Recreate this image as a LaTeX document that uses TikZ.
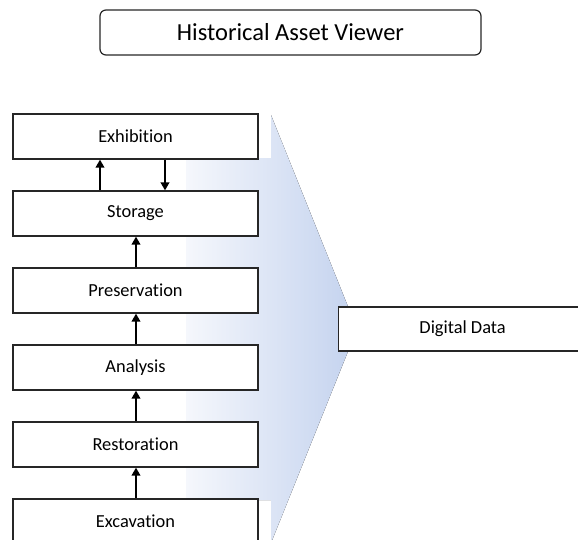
\documentclass[tikz,border=0pt]{standalone}
\usepackage{fontspec}
\setmainfont{Carlito}[Ligatures=NoCommon]
\usetikzlibrary{arrows.meta}
\definecolor{flowlight}{HTML}{F5F7FC}
\definecolor{flowdark}{HTML}{C3D2EE}
\begin{document}
\begin{tikzpicture}[x=1pt,y=-1pt,
  stagebox/.style={draw=black!85, line width=1.2pt, fill=white,
    minimum width=245pt, minimum height=45pt, inner sep=0pt,
    font=\fontsize{18.4}{21}\selectfont},
  titlebox/.style={draw=black!85, line width=1.2pt, rounded corners=6pt,
    minimum width=381pt, minimum height=45pt, inner sep=0pt,
    font=\fontsize{24.5}{28}\selectfont},
  flow/.style={line width=2.1pt, -{Triangle[length=8pt,width=8.5pt]}}]
\useasboundingbox (0,0) rectangle (578,539);
\begin{scope}
\clip (0,0) rectangle (578,539);
% shaded arrow behind the stages
\fill[left color=flowlight, right color=flowdark]
  (186,158) -- (271,158) -- (271,115) -- (357,329) -- (271,543)
  -- (271,500) -- (186,500) -- cycle;
% title
\node[titlebox] (title) at (290.5,32.5) {Historical Asset Viewer};
% stages
\node[stagebox] (exh) at (135.5,136.5) {Exhibition};
\node[stagebox] (sto) at (135.5,213.5) {Storage};
\node[stagebox] (pre) at (135.5,290.5) {Preservation};
\node[stagebox] (ana) at (135.5,367.5) {Analysis};
\node[stagebox] (res) at (135.5,444.5) {Restoration};
\node[stagebox] (exc) at (135.5,521.5) {Excavation};
% output
\node[stagebox, minimum width=248pt, minimum height=44pt, anchor=west] (dig) at (338,329) {Digital Data};
% connectors
\draw[flow] ([xshift=0.5pt]exc.north) -- ([xshift=0.5pt]res.south);
\draw[flow] ([xshift=0.5pt]res.north) -- ([xshift=0.5pt]ana.south);
\draw[flow] ([xshift=0.5pt]ana.north) -- ([xshift=0.5pt]pre.south);
\draw[flow] ([xshift=0.5pt]pre.north) -- ([xshift=0.5pt]sto.south);
\draw[flow] ([xshift=-35.5pt]sto.north) -- ([xshift=-35.5pt]exh.south);
\draw[flow] ([xshift=29.5pt]exh.south) -- ([xshift=29.5pt]sto.north);
\end{scope}
\end{tikzpicture}
\end{document}
